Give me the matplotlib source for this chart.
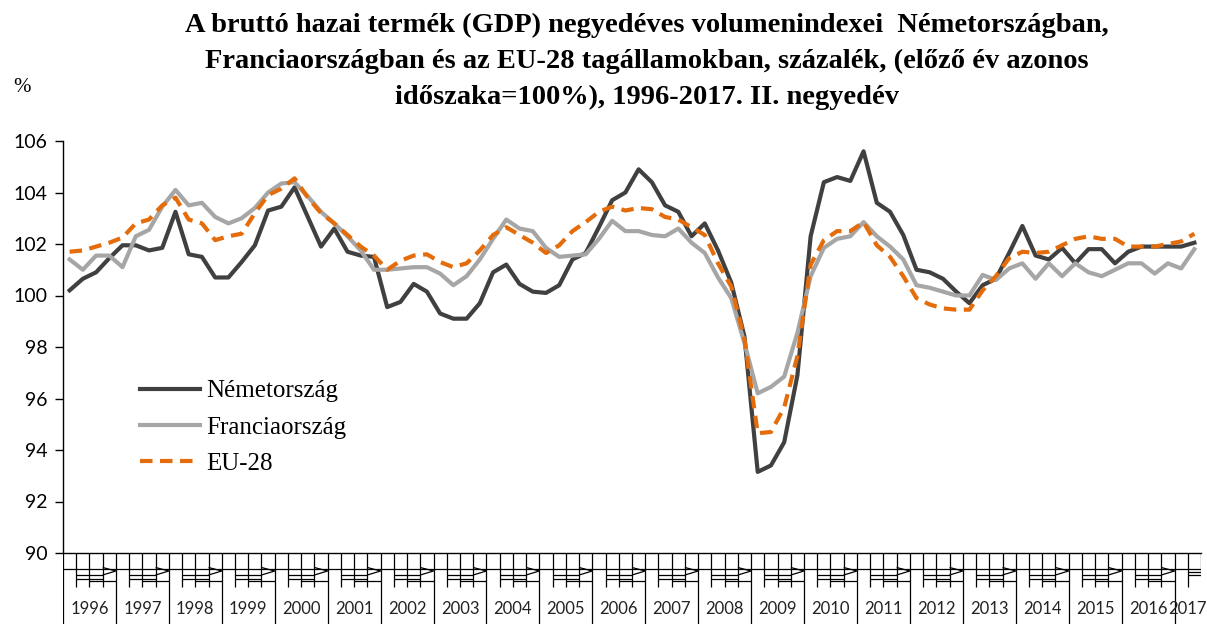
import matplotlib
matplotlib.use("Agg")
import matplotlib.pyplot as plt
import numpy as np

# quarterly volume indices, 1996 Q1 - 2017 Q2 (previous year same period = 100)
years = list(range(1996, 2018))
germany = [
    100.2, 100.65, 100.9, 101.45,
    101.95, 101.95, 101.75, 101.85,
    103.25, 101.6, 101.5, 100.7,
    100.7, 101.3, 101.95, 103.3,
    103.45, 104.2, 103.05, 101.9,
    102.6, 101.7, 101.55, 101.5,
    99.55, 99.75, 100.45, 100.15,
    99.3, 99.1, 99.1, 99.7,
    100.9, 101.2, 100.45, 100.15,
    100.1, 100.4, 101.4, 101.65,
    102.65, 103.7, 104.0, 104.9,
    104.4, 103.5, 103.25, 102.3,
    102.8, 101.75, 100.5, 98.4,
    93.15, 93.4, 94.3, 96.9,
    102.3, 104.4, 104.6, 104.45,
    105.6, 103.6, 103.25, 102.35,
    101.0, 100.9, 100.65, 100.15,
    99.7, 100.4, 100.65, 101.65,
    102.7, 101.55, 101.4, 101.85,
    101.25, 101.8, 101.8, 101.25,
    101.7, 101.9, 101.9, 101.9,
    101.9, 102.05,
]
france = [
    101.4, 101.0, 101.55, 101.55,
    101.1, 102.3, 102.55, 103.45,
    104.1, 103.5, 103.6, 103.05,
    102.8, 103.0, 103.4, 104.0,
    104.35, 104.4, 103.85, 103.25,
    102.8, 102.3, 101.75, 101.0,
    101.0, 101.05, 101.1, 101.1,
    100.85, 100.4, 100.75, 101.4,
    102.2, 102.95, 102.6, 102.5,
    101.85, 101.5, 101.55, 101.6,
    102.2, 102.9, 102.5, 102.5,
    102.35, 102.3, 102.6, 102.05,
    101.65, 100.7, 99.9, 98.15,
    96.2, 96.45, 96.85, 98.55,
    100.75, 101.85, 102.2, 102.3,
    102.85, 102.3, 101.9, 101.4,
    100.4, 100.3, 100.15, 100.0,
    100.0, 100.8, 100.6, 101.05,
    101.25, 100.65, 101.25, 100.75,
    101.25, 100.9, 100.75, 101.0,
    101.25, 101.25, 100.85, 101.25,
    101.05, 101.8,
]
eu28 = [
    101.7, 101.75, 101.9, 102.05,
    102.25, 102.8, 102.95, 103.5,
    103.8, 102.95, 102.8, 102.15,
    102.3, 102.4, 103.2, 103.9,
    104.15, 104.55, 103.8, 103.2,
    102.8, 102.35, 101.9, 101.55,
    101.0, 101.35, 101.55, 101.6,
    101.3, 101.1, 101.25, 101.75,
    102.35, 102.65, 102.35, 102.05,
    101.65, 101.95, 102.5, 102.85,
    103.25, 103.45, 103.3, 103.4,
    103.35, 103.05, 102.95, 102.65,
    102.35, 101.25, 100.35, 98.3,
    94.65, 94.7, 95.65, 97.65,
    101.2, 102.15, 102.5, 102.5,
    102.85, 101.95, 101.5, 100.75,
    99.9, 99.65, 99.5, 99.45,
    99.45, 100.2, 100.75, 101.45,
    101.7, 101.65, 101.7, 101.95,
    102.2, 102.3, 102.2, 102.2,
    101.9, 101.9, 101.9, 102.0,
    102.1, 102.4,
]
labels = ["Németország", "Franciaország", "EU-28"]
title = ("A bruttó hazai termék (GDP) negyedéves volumenindexei  Németországban,\n"
         "Franciaországban és az EU-28 tagállamokban, százalék, (előző év azonos\n"
         "időszaka=100%), 1996-2017. II. negyedév")

W, H = 1207, 624
fig = plt.figure(figsize=(W / 100, H / 100), dpi=100)
x0, x1, ytop, ybot = 63, 1201, 141, 553
ax = fig.add_axes([x0 / W, 1 - ybot / H, (x1 - x0) / W, (ybot - ytop) / H])

n = len(germany)
xs = np.arange(n) + 0.5
ax.plot(xs, germany, color="#404040", lw=3, label=labels[0])
ax.plot(xs, france, color="#A6A6A6", lw=3, label=labels[1])
ax.plot(xs, eu28, color="#E46C0A", lw=3, dashes=(3, 1.8), label=labels[2])

ax.set_xlim(0, n)
ax.set_ylim(90, 106)
ax.set_yticks(range(90, 107, 2))
ax.set_xticks([])
for s in ["top", "right"]:
    ax.spines[s].set_visible(False)
ax.spines["left"].set_linewidth(1)
ax.spines["bottom"].set_linewidth(1)
ax.tick_params(axis="y", direction="out", length=6, width=1, labelsize=14, pad=5)
for t in ax.get_yticklabels():
    t.set_fontfamily("Lato")

leg = ax.legend(loc="upper left", bbox_to_anchor=(140 / W, 1 - 380 / H),
                bbox_transform=fig.transFigure, frameon=False, borderpad=0,
                borderaxespad=0, handlelength=2.4, handletextpad=0.25,
                labelspacing=0.55, prop={"family": "Liberation Serif", "size": 18})

# category axis below the plot: quarter marks and year boxes
qax = fig.add_axes([x0 / W, 0, (x1 - x0) / W, (H - ybot) / H])
qax.set_xlim(0, n)
qax.set_ylim(H - ybot, 0)
qax.axis("off")
kw = dict(color="black", lw=0.9, solid_capstyle="butt")
for k, yr in enumerate(years):
    a = 4 * k
    nq = min(4, n - a)
    b = a + nq
    qax.plot([a, a], [0, H - ybot], **kw)
    qax.plot([a, b], [16, 16], **kw)
    for q in range(1, nq):
        qax.plot([a + q, a + q], [0, 34], **kw)
    if nq == 4:
        qax.plot([a + 1, a + 3], [22, 22], **kw)
        qax.plot([a + 1, a + 3], [26, 26], **kw)
        qax.plot([a + 2, a + 4], [28, 28], **kw)
        qax.plot([a + 3, a + 4, a + 3], [14.5, 18, 22], **kw)
    else:
        qax.plot([b, b], [0, 18], **kw)
        qax.plot([a + 1, b], [19, 19], **kw)
        qax.plot([a + 1, b], [22, 22], **kw)
    qax.text((a + b) / 2, 56, str(yr), ha="center", va="center",
             fontsize=12, family="Lato", color="#222222")

fig.text(647 / W, 1 - 13 / H, title, ha="center", va="top", fontsize=20.5,
         fontweight="bold", family="Liberation Serif", linespacing=1.55)
fig.text(22 / W, 1 - 88 / H, "%", ha="center", va="center", fontsize=15,
         family="Liberation Serif")

fig.savefig("out.png", dpi=100)
